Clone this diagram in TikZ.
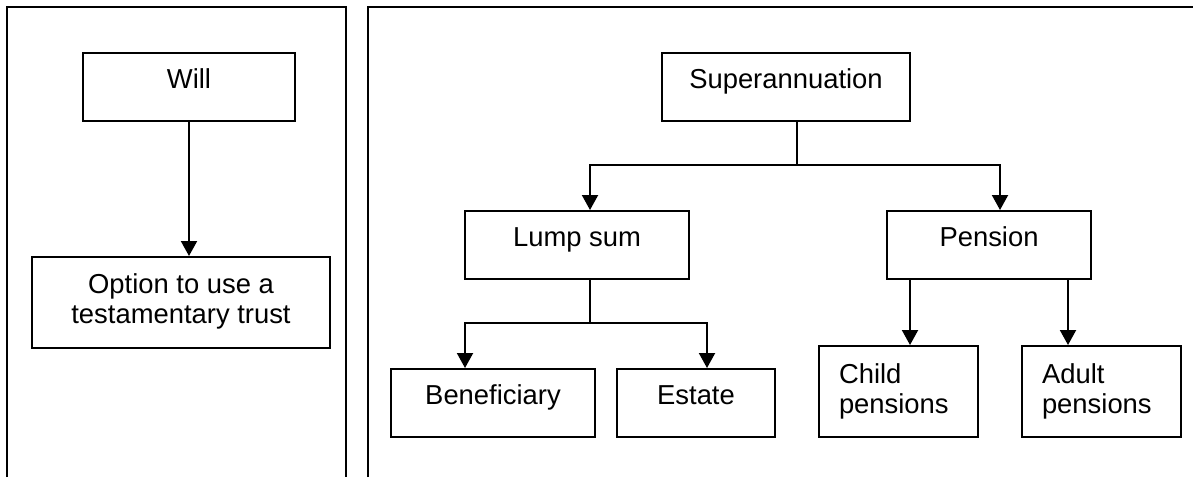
\documentclass[tikz,border=0pt]{standalone}
\usepackage{fontspec}
\setmainfont{Liberation Sans}
\usetikzlibrary{arrows.meta}

\begin{document}
\begin{tikzpicture}[x=0.5pt,y=-0.5pt,>={Triangle[width=8pt,length=7.5pt]},line width=1pt,
    box/.style={draw,inner sep=0pt,align=center,font=\fontsize{13.7}{15}\selectfont,anchor=north},
    oneline/.style={box,text height=17.5pt,text depth=16.5pt},
    twoline/.style={box,text height=33pt,text depth=12.5pt},
    leftbox/.style={box,align=left,text width=59.5pt,minimum width=79.5pt,text height=18.5pt,text depth=27pt}]
        \useasboundingbox (0,0) rectangle (1193,477);
        \draw (7,477)--(7,7)--(346,7)--(346,477);
        \draw (368,477)--(368,7)--(1193,7);
        \node[oneline,minimum width=106pt] (will) at (189,52) {Will};
        \node[twoline,minimum width=149pt] (option) at (181,256) {Option to use a\\testamentary trust};
        \draw[->] (will.south)--(will.south |- option.north);
        \node[oneline,minimum width=124pt] (super) at (786,52) {Superannuation};
        \node[oneline,minimum width=112pt] (lump) at (577,210) {Lump sum};
        \node[oneline,minimum width=102pt] (pension) at (989,210) {Pension};
        \coordinate (sbus) at (797,165);
        \coordinate (lumpin) at (590,165);
        \coordinate (pensin) at (1000,165);
        \draw[->] (sbus |- super.south)--(sbus)--(lumpin)--(lumpin |- lump.north);
        \draw[->] (sbus)--(pensin)--(pensin |- pension.north);
        \node[oneline,minimum width=102pt] (benef) at (493,368) {Beneficiary};
        \node[oneline,minimum width=79pt] (estate) at (696,368) {Estate};
        \coordinate (lbus) at (590,323);
        \coordinate (benin) at (465,323);
        \coordinate (estin) at (707,323);
        \draw (lbus |- lump.south)--(lbus);
        \draw[->] (lbus)--(benin)--(benin |- benef.north);
        \draw[->] (lbus)--(estin)--(estin |- estate.north);
        \node[leftbox] (child) at (898.5,345) {Child\\pensions};
        \node[leftbox] (adult) at (1101.5,345) {Adult\\pensions};
        \draw[->] (910,0 |- pension.south)--(910,0 |- child.north);
        \draw[->] (1068,0 |- pension.south)--(1068,0 |- adult.north);
    \end{tikzpicture}
\end{document}
